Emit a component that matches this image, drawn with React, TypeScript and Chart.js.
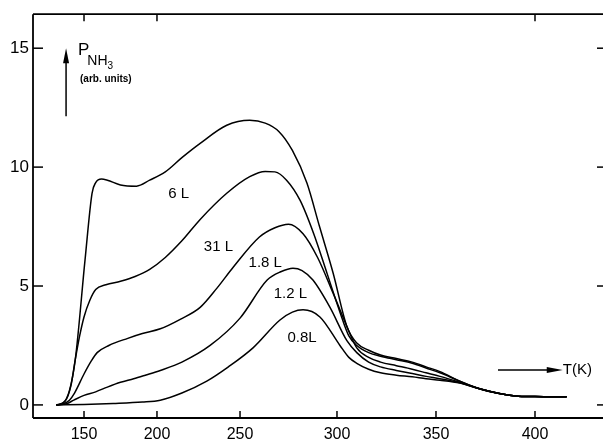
import React, { useEffect, useRef } from 'react';
import { Chart, LineController, LineElement, PointElement, LinearScale } from 'chart.js';

// ---- axis ticks ----
const TEMP_TICKS = [150, 200, 250, 300, 350, 400];
// calibration of the (non-linear) recorder temperature axis: fraction of axis width at each tick
const TEMP_TICK_FRACS = [0.0895, 0.2175, 0.3632, 0.5333, 0.707, 0.8807];
const TOP_TICKS = [150, 200, 400];
const P_TICKS = [0, 5, 10, 15];

// ---- series (T in K, P_NH3 in arb. units) ----
const T_6L = [131, 136, 140, 144, 150.7, 155.5, 158, 162, 166, 175, 186, 195, 205, 215, 226, 242, 255, 263, 270, 277, 284.5, 291, 298, 305, 310, 316, 322, 330, 338, 345, 352, 362, 372, 382, 390, 400, 416];
const P_6L = [0, 0.1, 0.6, 1.9, 6.1, 8.9, 9.35, 9.5, 9.45, 9.25, 9.2, 9.45, 9.8, 10.4, 11.0, 11.76, 11.97, 11.85, 11.5, 10.7, 9.33, 7.5, 5.55, 3.3, 2.6, 2.3, 2.1, 1.95, 1.8, 1.6, 1.4, 1.0, 0.68, 0.48, 0.38, 0.35, 0.34];

const T_31L = [131, 137, 141, 144, 147, 150, 154, 158, 165, 175, 185, 195, 205, 215, 226, 242, 255, 263, 268, 274, 281, 288, 295, 301.5, 306, 310, 316, 322, 330, 338, 345, 352, 362, 372, 382, 390, 400, 416];
const P_31L = [0, 0.15, 0.8, 1.9, 2.9, 3.7, 4.4, 4.85, 5.05, 5.2, 5.4, 5.7, 6.2, 6.9, 7.8, 8.9, 9.6, 9.82, 9.8, 9.45, 8.6, 7.2, 5.5, 3.9, 2.9, 2.5, 2.2, 2.05, 1.9, 1.75, 1.55, 1.35, 1.0, 0.68, 0.48, 0.38, 0.35, 0.34];

const T_18L = [131, 136, 140, 143.5, 150, 155, 159, 167, 180, 190, 202, 214, 226, 236, 246, 260, 268, 275, 282.5, 290, 298, 305, 310, 316, 322, 330, 338, 345, 352, 362, 372, 382, 390, 400, 416];
const P_18L = [0, 0.05, 0.2, 0.5, 1.3, 1.85, 2.2, 2.5, 2.8, 3.0, 3.2, 3.6, 4.1, 4.9, 5.8, 7.06, 7.45, 7.6, 7.2, 6.2, 4.7, 3.3, 2.4, 2.0, 1.8, 1.65, 1.5, 1.35, 1.2, 0.95, 0.68, 0.48, 0.38, 0.35, 0.34];

const T_12L = [131, 138, 143, 150, 158, 166, 175, 184, 192, 202, 215, 232, 250, 264, 271, 277.3, 282, 287.6, 296.4, 305, 310, 316, 322, 330, 338, 345, 352, 362, 372, 382, 390, 400, 416];
const P_12L = [0, 0.05, 0.2, 0.4, 0.55, 0.75, 0.95, 1.1, 1.25, 1.45, 1.8, 2.5, 3.65, 5.25, 5.6, 5.75, 5.65, 5.25, 4.1, 2.7, 2.2, 1.8, 1.6, 1.45, 1.32, 1.2, 1.1, 0.93, 0.68, 0.48, 0.38, 0.35, 0.34];

const T_08L = [131, 150, 170, 190, 202, 215, 230, 243, 256.7, 270.6, 277, 282.5, 291.2, 301.5, 306, 310, 316, 322, 330, 338, 345, 352, 362, 372, 382, 390, 400, 416];
const P_08L = [0, 0.02, 0.06, 0.12, 0.2, 0.5, 1.0, 1.6, 2.4, 3.57, 3.9, 4.0, 3.7, 2.5, 2.0, 1.75, 1.5, 1.35, 1.25, 1.18, 1.1, 1.04, 0.92, 0.68, 0.48, 0.38, 0.35, 0.34];

const SERIES_T = [T_6L, T_31L, T_18L, T_12L, T_08L];
const SERIES_P = [P_6L, P_31L, P_18L, P_12L, P_08L];

// ---- curve labels (placed in data coordinates) ----
const CURVE_LABELS = ['6 L', '31 L', '1.8 L', '1.2 L', '0.8L'];
const LABEL_T = [213, 237, 263, 276, 282];
const LABEL_P = [8.87, 6.64, 5.97, 4.66, 2.8];

const FONT = '"Liberation Sans", Arial, sans-serif';

class CalibratedScale extends LinearScale {
  static id = 'calibrated';
  static defaults = LinearScale.defaults;
  fracFor(v: number) {
    const t = TEMP_TICKS, f = TEMP_TICK_FRACS, n = t.length;
    let i = 0;
    if (v >= t[n - 1]) i = n - 2;
    else if (v > t[0]) { while (i < n - 2 && v > t[i + 1]) i++; }
    return f[i] + ((v - t[i]) * (f[i + 1] - f[i])) / (t[i + 1] - t[i]);
  }
  getPixelForValue(v: number) {
    return this.getPixelForDecimal(this.fracFor(v));
  }
  getValueForPixel(p: number) {
    const d = this.getDecimalForPixel(p);
    const t = TEMP_TICKS, f = TEMP_TICK_FRACS, n = t.length;
    let i = 0;
    if (d >= f[n - 1]) i = n - 2;
    else if (d > f[0]) { while (i < n - 2 && d > f[i + 1]) i++; }
    return t[i] + ((d - f[i]) * (t[i + 1] - t[i])) / (f[i + 1] - f[i]);
  }
}

Chart.register(LineController, LineElement, PointElement, LinearScale, CalibratedScale);

const decor = {
  id: 'decor',
  afterDraw(chart: any) {
    const { ctx, chartArea: a, scales } = chart;
    const x = scales.x, y = scales.y;
    const line = (x1: number, y1: number, x2: number, y2: number) => {
      ctx.beginPath(); ctx.moveTo(x1, y1); ctx.lineTo(x2, y2); ctx.stroke();
    };
    ctx.save();
    ctx.strokeStyle = '#000';
    ctx.fillStyle = '#000';
    ctx.lineWidth = 1.8;
    line(a.left, a.bottom, a.left, a.top);
    line(a.left, a.top, a.right, a.top);
    line(a.left, a.bottom, a.right, a.bottom);
    ctx.lineWidth = 1.5;
    for (const v of P_TICKS) {
      const py = y.getPixelForValue(v);
      line(a.left, py, a.left + 10, py);
      line(a.right, py, a.right - 6, py);
    }
    for (const v of TEMP_TICKS) {
      const px = x.getPixelForValue(v);
      line(px, a.bottom, px, a.bottom - 7);
    }
    for (const v of TOP_TICKS) {
      const px = x.getPixelForValue(v);
      line(px, a.top, px, a.top + 7);
    }
    // curve labels
    ctx.font = '15px ' + FONT;
    ctx.textAlign = 'center';
    ctx.textBaseline = 'middle';
    CURVE_LABELS.forEach((s, i) => {
      ctx.fillText(s, x.getPixelForValue(LABEL_T[i]), y.getPixelForValue(LABEL_P[i]));
    });
    // y-quantity label with upward arrow
    const ax = x.getPixelForValue(137.7);
    const ay0 = y.getPixelForValue(12.14), ay1 = y.getPixelForValue(15.0);
    ctx.lineWidth = 1.5;
    line(ax, ay0, ax, ay1 + 10);
    ctx.beginPath();
    ctx.moveTo(ax, ay1); ctx.lineTo(ax - 3, ay1 + 15); ctx.lineTo(ax + 3, ay1 + 15); ctx.closePath(); ctx.fill();
    const px0 = x.getPixelForValue(145.9), pb = y.getPixelForValue(14.7);
    ctx.textAlign = 'left';
    ctx.textBaseline = 'alphabetic';
    ctx.font = '17px ' + FONT;
    ctx.fillText('P', px0, pb);
    const wP = ctx.measureText('P').width;
    ctx.font = '14px ' + FONT;
    ctx.fillText('NH', px0 + wP - 2, pb + 10);
    const wNH = ctx.measureText('NH').width;
    ctx.font = '10px ' + FONT;
    ctx.fillText('3', px0 + wP - 2 + wNH, pb + 14);
    ctx.font = 'bold 10px ' + FONT;
    ctx.fillText('(arb. units)', px0 + 2, pb + 27);
    // x-quantity label with arrow
    const ty = y.getPixelForValue(1.47);
    const tx0 = x.getPixelForValue(381.3), tx1 = x.getPixelForValue(414);
    line(tx0, ty, tx1 - 10, ty);
    ctx.beginPath();
    ctx.moveTo(tx1, ty); ctx.lineTo(tx1 - 16, ty - 3); ctx.lineTo(tx1 - 16, ty + 3); ctx.closePath(); ctx.fill();
    ctx.font = '15px ' + FONT;
    ctx.textBaseline = 'middle';
    ctx.fillText('T(K)', tx1, ty);
    ctx.restore();
  },
};

export default function App() {
  const ref = useRef<HTMLCanvasElement>(null);
  useEffect(() => {
    document.body.style.margin = '0';
    const canvas = ref.current!;
    const datasets = SERIES_T.map((ts, k) => ({
      label: CURVE_LABELS[k],
      data: ts.map((t, i) => ({ x: t, y: SERIES_P[k][i] })),
      borderColor: '#000',
      borderWidth: 1.5,
      pointRadius: 0,
      fill: false,
      cubicInterpolationMode: 'monotone' as const,
    }));
    const chart = new Chart(canvas, {
      type: 'line',
      data: { datasets },
      options: {
        animation: false,
        responsive: false,
        devicePixelRatio: 1,
        events: [],
        layout: { padding: { top: 14, right: 0, left: 0, bottom: 0 } },
        scales: {
          x: {
            type: 'calibrated' as any,
            min: 115,
            max: 434,
            afterBuildTicks: (s: any) => { s.ticks = TEMP_TICKS.map((v) => ({ value: v })); },
            afterFit: (s: any) => { s.height = 24; },
            grid: { display: false, drawTicks: false },
            border: { display: false },
            ticks: { color: '#000', font: { family: FONT, size: 16 }, padding: 7, maxRotation: 0, autoSkip: false, callback: (v: any) => String(v) },
          },
          y: {
            type: 'linear',
            min: -0.55,
            max: 16.43,
            afterBuildTicks: (s: any) => { s.ticks = P_TICKS.map((v) => ({ value: v })); },
            afterFit: (s: any) => { s.width = 33; },
            grid: { display: false, drawTicks: false },
            border: { display: false },
            ticks: { color: '#000', font: { family: FONT, size: 17 }, padding: 4, callback: (v: any) => String(v) },
          },
        },
      },
      plugins: [decor],
    });
    return () => chart.destroy();
  }, []);
  return (
    <div style={{ width: 603, height: 442 }}>
      <canvas ref={ref} width={603} height={442} style={{ display: 'block' }} />
    </div>
  );
}
